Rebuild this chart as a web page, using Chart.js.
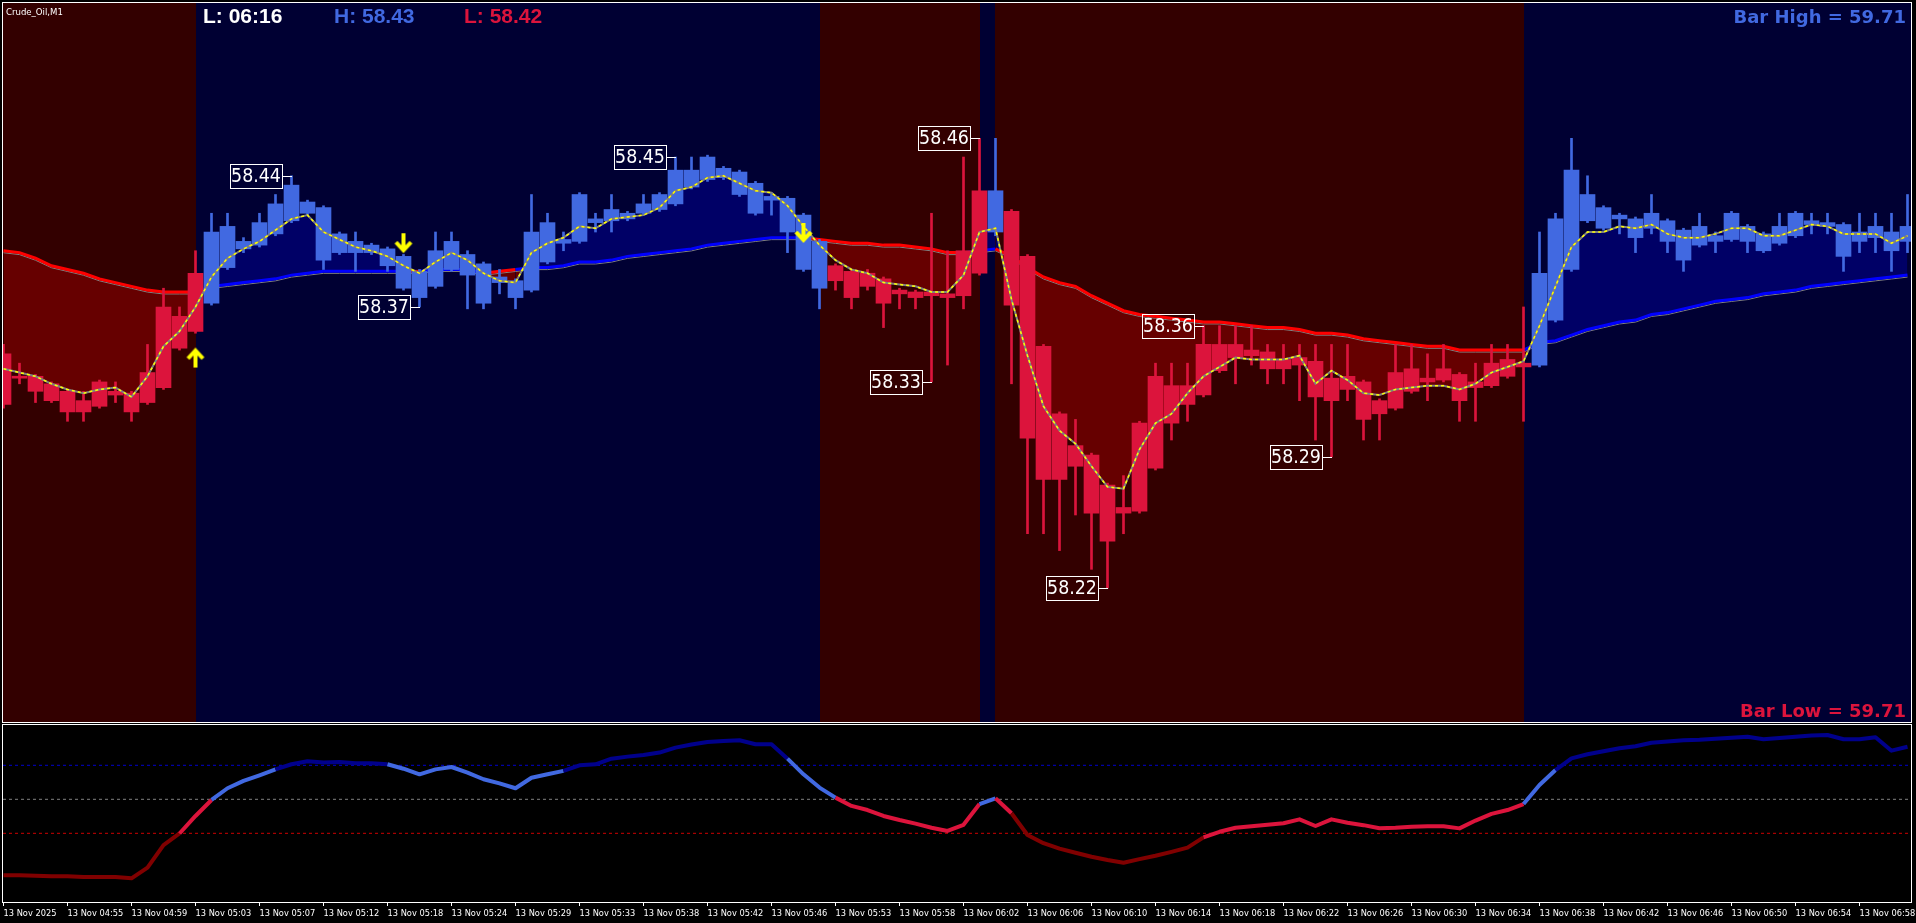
<!DOCTYPE html>
<html>
<head>
<meta charset="utf-8">
<title>Crude_Oil,M1</title>
<script src="https://cdn.jsdelivr.net/npm/chart.js@4.4.1/dist/chart.umd.min.js"></script>
<style>
  html, body { margin: 0; padding: 0; background: #000; overflow: hidden; }
  #main { position: absolute; left: 0; top: 0; }
  #osc { position: absolute; left: 0; top: 723px; }
</style>
</head>
<body>
<canvas id="main" width="1916" height="723"></canvas>
<canvas id="osc" width="1916" height="200"></canvas>
<script>
// Crude_Oil M1 candles, 120 bars (index 0 = 04:51)
const opens = [58.345,58.333,58.333,58.329,58.325,58.320,58.330,58.325,58.324,58.335,58.370,58.365,58.388,
  58.372,58.391,58.401,58.403,58.409,58.416,58.420,58.395,58.399,58.399,58.399,58.392,58.380,58.375,58.381,58.390,
  58.387,58.372,58.383,58.375,58.379,58.394,58.404,58.405,58.415,58.416,58.417,58.420,58.422,58.425,58.434,58.438,
  58.439,58.430,58.420,58.427,58.410,58.390,58.380,58.392,58.389,58.388,58.385,58.379,58.378,58.378,58.377,58.400,
  58.432,58.410,58.421,58.397,58.349,58.313,58.296,58.291,58.275,58.263,58.308,58.333,58.328,58.328,58.350,58.350,
  58.350,58.347,58.346,58.342,58.343,58.341,58.332,58.333,58.330,58.320,58.335,58.337,58.332,58.337,58.334,58.330,
  58.340,58.342,58.340,58.339,58.363,58.390,58.416,58.412,58.417,58.407,58.412,58.405,58.395,58.403,58.405,58.406,
  58.405,58.400,58.404,58.408,58.414,58.413,58.397,58.405,58.407,58.400,58.405];
const closes = [58.318,58.332,58.325,58.320,58.314,58.314,58.317,58.323,58.314,58.319,58.327,58.348,58.357,
  58.410,58.413,58.405,58.415,58.425,58.435,58.426,58.423,58.409,58.405,58.403,58.401,58.397,58.389,58.400,58.405,
  58.398,58.393,58.386,58.384,58.410,58.415,58.406,58.430,58.417,58.422,58.420,58.425,58.430,58.443,58.443,58.450,
  58.444,58.442,58.436,58.429,58.428,58.419,58.405,58.384,58.375,58.381,58.372,58.377,58.375,58.376,58.375,58.376,
  58.388,58.432,58.371,58.300,58.278,58.278,58.285,58.260,58.245,58.260,58.261,58.284,58.308,58.318,58.323,58.336,
  58.343,58.344,58.337,58.337,58.339,58.322,58.320,58.326,58.310,58.313,58.316,58.325,58.330,58.331,58.320,58.327,
  58.328,58.333,58.338,58.388,58.417,58.443,58.430,58.423,58.419,58.417,58.420,58.416,58.411,58.413,58.408,58.420,
  58.413,58.409,58.413,58.420,58.416,58.415,58.414,58.410,58.413,58.410,58.413];
const highs = [58.350,58.340,58.334,58.330,58.326,58.325,58.331,58.330,58.325,58.350,58.380,58.370,58.400,
  58.420,58.420,58.407,58.420,58.430,58.440,58.427,58.424,58.410,58.410,58.404,58.402,58.398,58.390,58.410,58.410,
  58.400,58.394,58.390,58.385,58.430,58.420,58.410,58.431,58.420,58.430,58.421,58.430,58.431,58.450,58.450,58.451,
  58.445,58.443,58.437,58.431,58.429,58.420,58.406,58.393,58.390,58.390,58.386,58.380,58.379,58.420,58.400,58.450,
  58.460,58.460,58.422,58.398,58.350,58.314,58.310,58.292,58.276,58.280,58.309,58.340,58.340,58.340,58.360,58.360,
  58.360,58.360,58.350,58.350,58.350,58.350,58.350,58.350,58.331,58.321,58.350,58.350,58.345,58.350,58.335,58.340,
  58.350,58.350,58.370,58.410,58.420,58.460,58.440,58.424,58.420,58.418,58.430,58.417,58.412,58.420,58.410,58.421,
  58.414,58.410,58.420,58.421,58.420,58.420,58.415,58.420,58.420,58.420,58.430];
const lows = [58.316,58.329,58.319,58.319,58.309,58.309,58.316,58.319,58.309,58.318,58.326,58.347,58.356,
  58.371,58.390,58.399,58.402,58.408,58.415,58.419,58.390,58.398,58.389,58.398,58.389,58.379,58.370,58.380,58.389,
  58.369,58.369,58.377,58.369,58.378,58.393,58.400,58.404,58.410,58.410,58.416,58.419,58.421,58.424,58.433,58.437,
  58.438,58.429,58.419,58.419,58.399,58.389,58.369,58.379,58.369,58.379,58.359,58.369,58.369,58.330,58.339,58.369,
  58.387,58.408,58.329,58.249,58.249,58.240,58.259,58.230,58.220,58.249,58.260,58.283,58.299,58.309,58.322,58.335,
  58.329,58.339,58.329,58.329,58.320,58.299,58.290,58.320,58.299,58.299,58.315,58.324,58.320,58.330,58.309,58.309,
  58.327,58.332,58.309,58.338,58.362,58.389,58.415,58.411,58.409,58.399,58.409,58.399,58.389,58.402,58.399,58.405,
  58.399,58.399,58.403,58.407,58.409,58.409,58.389,58.399,58.399,58.389,58.399];

// fast (yellow) and slow (red/blue) averages
const fastMa = [58.337,58.335,58.333,58.329,58.326,58.324,58.326,58.327,58.322,58.333,58.349,58.357,58.370,
  58.386,58.396,58.401,58.405,58.411,58.417,58.419,58.410,58.406,58.402,58.400,58.397,58.392,58.388,58.394,58.399,
  58.395,58.388,58.384,58.383,58.399,58.404,58.407,58.413,58.412,58.417,58.418,58.419,58.423,58.432,58.434,58.439,
  58.440,58.436,58.432,58.431,58.424,58.413,58.403,58.395,58.390,58.388,58.383,58.382,58.381,58.378,58.378,58.387,
  58.410,58.412,58.374,58.344,58.317,58.304,58.297,58.285,58.274,58.273,58.294,58.308,58.313,58.324,58.333,58.338,
  58.343,58.342,58.342,58.342,58.344,58.329,58.336,58.331,58.324,58.323,58.326,58.327,58.328,58.328,58.326,58.329,
  58.335,58.338,58.341,58.360,58.381,58.402,58.410,58.410,58.413,58.412,58.414,58.409,58.407,58.407,58.409,58.412,
  58.412,58.408,58.408,58.411,58.414,58.413,58.409,58.409,58.409,58.404,58.408];
const slowMa = [58.400,58.399,58.396,58.392,58.390,58.388,58.385,58.383,58.381,58.379,58.378,58.378,58.378,
  58.381,58.382,58.383,58.384,58.385,58.387,58.388,58.389,58.389,58.389,58.389,58.389,58.389,58.389,58.390,58.390,
  58.390,58.388,58.389,58.390,58.391,58.391,58.392,58.394,58.394,58.395,58.397,58.398,58.399,58.400,58.401,58.403,
  58.404,58.405,58.406,58.407,58.407,58.407,58.406,58.405,58.404,58.404,58.403,58.403,58.402,58.401,58.399,58.399,
  58.400,58.401,58.397,58.391,58.386,58.383,58.381,58.376,58.372,58.368,58.366,58.365,58.364,58.363,58.362,58.362,
  58.361,58.360,58.359,58.359,58.358,58.356,58.356,58.355,58.353,58.352,58.351,58.350,58.349,58.349,58.347,58.347,
  58.347,58.347,58.347,58.351,58.352,58.355,58.358,58.360,58.362,58.363,58.366,58.367,58.369,58.371,58.373,58.374,
  58.375,58.377,58.378,58.379,58.381,58.382,58.383,58.384,58.385,58.386,58.387];

// oscillator in the lower window
const oscValues = [5.3,5.3,5.1,4.7,4.7,4.3,4.3,4.3,3.5,9.8,23.1,29.9,40.2,49.6,56.5,60.8,64.1,67.6,70.6,72.4,
  71.6,72.0,71.2,71.2,70.6,68.0,64.7,67.6,69.0,65.7,61.8,59.4,56.5,62.7,64.7,66.7,70.0,70.6,73.9,75.1,76.1,77.5,
  80.4,82.2,83.7,84.3,84.7,82.4,82.4,73.9,64.7,56.9,51.0,46.1,43.7,40.2,37.8,35.7,33.3,31.4,35.0,47.2,50.6,41.8,
  29.0,24.2,21.0,18.6,16.2,14.3,12.7,14.8,16.8,19.1,21.6,27.6,30.9,33.3,34.2,35.0,35.9,38.2,34.3,38.2,36.2,34.8,
  33.0,33.2,33.9,34.1,34.2,32.9,37.5,41.4,43.7,47.2,58.4,67.2,74.1,76.5,78.3,80.0,81.2,83.3,84.0,84.7,85.0,85.6,
  86.2,86.8,85.3,86.0,86.8,87.5,87.8,85.3,85.3,86.5,78.6,80.9];
const oscLevels = [70, 50, 30];

// trend runs: [first bar, last bar, direction]
const trendRuns = [[0, 12, 'dn'], [13, 51, 'up'], [52, 61, 'dn'], [62, 62, 'up'], [63, 95, 'dn'], [96, 119, 'up']];

// signal arrows
const arrowBars = [12, 25, 50];
const arrowPrices = [58.343, 58.404, 58.4095];
const arrowDirs = ['up', 'dn', 'dn'];

// swing high / low labels
const swingBars = [18, 26, 42, 58, 61, 69, 75, 83];
const swingPrices = [58.44, 58.37, 58.45, 58.33, 58.46, 58.22, 58.36, 58.29];

// time axis labels, one every 4 bars
const tickBars = [0,4,8,12,16,20,24,28,32,36,40,44,48,52,56,60,64,68,72,76,80,84,88,92,96,100,104,108,112,116];
const timeLabels = ['13 Nov 2025','13 Nov 04:55','13 Nov 04:59','13 Nov 05:03','13 Nov 05:07','13 Nov 05:12',
  '13 Nov 05:18','13 Nov 05:24','13 Nov 05:29','13 Nov 05:33','13 Nov 05:38','13 Nov 05:42','13 Nov 05:46',
  '13 Nov 05:53','13 Nov 05:58','13 Nov 06:02','13 Nov 06:06','13 Nov 06:10','13 Nov 06:14','13 Nov 06:18',
  '13 Nov 06:22','13 Nov 06:26','13 Nov 06:30','13 Nov 06:34','13 Nov 06:38','13 Nov 06:42','13 Nov 06:46',
  '13 Nov 06:50','13 Nov 06:54','13 Nov 06:58'];

const nBars = opens.length;
const xMin = -0.03125, xMax = 119.21875;
const BLUE = '#4169E1', CRIMSON = '#DC143C';

// use a condensed face when one is installed, and size the small texts to the widths seen on the chart
function hasFont(name) {
  const g = document.createElement('canvas').getContext('2d');
  const probe = '13 Nov 04:55 abcMWxyz';
  g.font = '20px monospace';
  const w0 = g.measureText(probe).width;
  g.font = '20px "' + name + '", monospace';
  return g.measureText(probe).width !== w0;
}
const narrowName = ['Liberation Sans Narrow', 'DejaVu Sans Condensed'].find(hasFont);
const SMALL = narrowName ? '"' + narrowName + '", "Liberation Sans", sans-serif' : '"Liberation Sans", Arial, sans-serif';
function fitSize(text, width) {
  const g = document.createElement('canvas').getContext('2d');
  g.font = '10px ' + SMALL;
  return Math.round(100 * width / g.measureText(text).width) / 10;
}
const axisSize = fitSize('13 Nov 04:55', 56);
const tagFont = fitSize('58.44', 50) + 'px ' + SMALL;
const nameFont = fitSize('Crude_Oil,M1', 57) + 'px ' + SMALL;

const trendOf = [];
trendRuns.forEach(([a, b, d]) => { for (let i = a; i <= b; i++) trendOf[i] = d; });
const candleColors = trendOf.map(d => d === 'up' ? BLUE : CRIMSON);
const idx = opens.map((_, i) => i);

function makeArrow(up) {
  const c = document.createElement('canvas');
  c.width = 20; c.height = 22;
  const g = c.getContext('2d');
  if (!up) { g.translate(0, 22); g.scale(1, -1); }
  g.strokeStyle = '#ffff00';
  g.lineWidth = 4;
  g.beginPath(); g.moveTo(10, 4); g.lineTo(10, 21); g.stroke();
  g.beginPath(); g.moveTo(2.5, 12); g.lineTo(10, 4); g.lineTo(17.5, 12); g.stroke();
  return c;
}
const upArrow = makeArrow(true), dnArrow = makeArrow(false);

// plugins
const zoneBg = {
  id: 'zoneBg',
  beforeDraw(chart) {
    const {ctx, chartArea: a, scales: {x}} = chart;
    ctx.save();
    trendRuns.forEach(([from, to, dir]) => {
      const x0 = from === 0 ? a.left : Math.round(x.getPixelForValue(from - 1));
      const x1 = to === nBars - 1 ? a.right : Math.round(x.getPixelForValue(to));
      ctx.fillStyle = dir === 'up' ? '#000033' : '#330000';
      ctx.fillRect(x0, a.top, x1 - x0, a.bottom - a.top);
    });
    ctx.restore();
  }
};

const shiftLines = {
  id: 'shiftLines',
  beforeDatasetDraw(chart, args) {
    const s = chart.data.datasets[args.index].shiftY;
    if (s) { chart.ctx.save(); chart.ctx.translate(0, s); }
  },
  afterDatasetDraw(chart, args) {
    if (chart.data.datasets[args.index].shiftY) chart.ctx.restore();
  }
};

const swingLabels = {
  id: 'swingLabels',
  afterDatasetsDraw(chart) {
    const {ctx, scales: {x, y}} = chart;
    ctx.save();
    ctx.strokeStyle = '#fff';
    ctx.fillStyle = '#fff';
    ctx.lineWidth = 1;
    ctx.font = tagFont;
    ctx.textAlign = 'center';
    ctx.textBaseline = 'middle';
    swingBars.forEach((b, k) => {
      const px = Math.round(x.getPixelForValue(b));
      const py = Math.round(y.getPixelForValue(swingPrices[k]));
      const right = px - 10;
      ctx.beginPath();
      ctx.moveTo(right, py + 0.5);
      ctx.lineTo(px, py + 0.5);
      ctx.stroke();
      ctx.strokeRect(right - 52 + 0.5, py - 12 + 0.5, 52, 24);
      ctx.fillText(swingPrices[k].toFixed(2), right - 26, py + 1);
    });
    ctx.restore();
  }
};

const paneFrame = {
  id: 'paneFrame',
  afterDraw(chart) {
    const {ctx, chartArea: a} = chart;
    ctx.save();
    ctx.strokeStyle = '#fff';
    ctx.lineWidth = 1;
    ctx.strokeRect(a.left - 0.5, a.top - 0.5, a.right - a.left + 1, a.bottom - a.top + 1);
    ctx.restore();
  }
};

const headerText = {
  id: 'headerText',
  afterDraw(chart) {
    const ctx = chart.ctx;
    ctx.save();
    ctx.textBaseline = 'alphabetic';
    ctx.textAlign = 'left';
    ctx.fillStyle = '#fff';
    ctx.font = nameFont;
    ctx.fillText('Crude_Oil,M1', 6, 15);
    ctx.font = 'bold 21px "Liberation Sans", Arial, sans-serif';
    ctx.fillText('L: 06:16', 203, 23);
    ctx.fillStyle = BLUE;
    ctx.fillText('H: 58.43', 334, 23);
    ctx.fillStyle = CRIMSON;
    ctx.fillText('L: 58.42', 464, 23);
    ctx.textAlign = 'right';
    ctx.font = 'bold 18px "DejaVu Sans", sans-serif';
    ctx.fillStyle = BLUE;
    ctx.fillText('Bar High = 59.71', 1906, 23);
    ctx.fillStyle = CRIMSON;
    ctx.fillText('Bar Low = 59.71', 1906, 717);
    ctx.restore();
  }
};

// main price window
new Chart(document.getElementById('main'), {
  type: 'bar',
  data: {
    datasets: [
      { // 0 gray shadow of slow average
        type: 'line', order: 60, shiftY: 2,
        data: idx.map(i => ({x: i, y: slowMa[i]})),
        borderColor: '#808080', borderWidth: 1, pointRadius: 0, tension: 0
      },
      { // 1 slow average coloured by trend
        type: 'line', order: 50,
        data: idx.map(i => ({x: i, y: slowMa[i]})),
        borderColor: '#FF0000', borderWidth: 3, pointRadius: 0, tension: 0,
        segment: {
          borderColor: c => fastMa[c.p1DataIndex] >= slowMa[c.p1DataIndex] ? '#0000FF' : '#FF0000'
        }
      },
      { // 2 wicks
        type: 'bar', order: 40, grouped: false, barThickness: 2,
        data: idx.map(i => ({x: i, y: [lows[i], highs[i]]})),
        backgroundColor: candleColors, borderWidth: 0
      },
      { // 3 bodies
        type: 'bar', order: 30, grouped: false, barThickness: 15, minBarLength: 2,
        data: idx.map(i => ({x: i, y: [opens[i], closes[i]]})),
        backgroundColor: candleColors, borderWidth: 0
      },
      { // 4 gray under fast average
        type: 'line', order: 20,
        data: idx.map(i => ({x: i, y: fastMa[i]})),
        borderColor: '#808080', borderWidth: 2, pointRadius: 0, tension: 0
      },
      { // 5 fast average, filled against the slow one
        type: 'line', order: 10,
        data: idx.map(i => ({x: i, y: fastMa[i]})),
        borderColor: '#FFFF00', borderWidth: 1.5, borderDash: [3, 3], pointRadius: 0, tension: 0,
        fill: {target: 1, above: '#000066', below: '#660000'}
      },
      { // 6 arrows
        type: 'line', order: 5, showLine: false,
        data: arrowBars.map((b, k) => ({x: b, y: arrowPrices[k]})),
        pointRadius: 8,
        pointStyle: c => arrowDirs[c.dataIndex] === 'up' ? upArrow : dnArrow
      }
    ]
  },
  options: {
    responsive: false,
    animation: false,
    devicePixelRatio: 1,
    events: [],
    layout: {autoPadding: false, padding: {left: 3, right: 5, top: 3, bottom: 1}},
    plugins: {
      legend: {display: false},
      tooltip: {enabled: false},
      filler: {drawTime: 'beforeDatasetsDraw'}
    },
    scales: {
      x: {type: 'linear', min: xMin, max: xMax, offset: false, display: false},
      y: {type: 'linear', min: 58.14853, max: 58.5322, display: false}
    }
  },
  plugins: [zoneBg, shiftLines, swingLabels, paneFrame, headerText]
});

// oscillator window
const levelColors = ['#0000CD', '#808080', '#CC0000'];
function oscColor(v) {
  if (v >= 70) return '#00008B';
  if (v >= 50) return BLUE;
  if (v >= 30) return CRIMSON;
  return '#800000';
}

new Chart(document.getElementById('osc'), {
  type: 'line',
  data: {
    datasets: oscLevels.map((lv, k) => ({
      order: 20,
      data: [{x: xMin, y: lv}, {x: xMax, y: lv}],
      borderColor: levelColors[k], borderWidth: 1, borderDash: [3, 3], pointRadius: 0
    })).concat([{
      order: 1,
      data: idx.map(i => ({x: i, y: oscValues[i]})),
      borderWidth: 4, pointRadius: 0, tension: 0, borderJoinStyle: 'round',
      borderColor: '#800000',
      segment: {borderColor: c => oscColor(oscValues[c.p1DataIndex])}
    }])
  },
  options: {
    responsive: false,
    animation: false,
    devicePixelRatio: 1,
    events: [],
    layout: {autoPadding: false, padding: {left: 3, right: 5, top: 2, bottom: 0}},
    plugins: {legend: {display: false}, tooltip: {enabled: false}},
    scales: {
      x: {
        type: 'linear', min: xMin, max: xMax, offset: false,
        afterBuildTicks: s => { s.ticks = tickBars.map(v => ({value: v})); },
        afterFit: s => { s.height = 21; s.paddingLeft = 0; s.paddingRight = 0; },
        ticks: {
          color: '#fff', align: 'start', maxRotation: 0, minRotation: 0, autoSkip: false, padding: 2,
          font: {family: SMALL, size: axisSize},
          callback: (v, i) => timeLabels[i]
        },
        grid: {drawOnChartArea: false, drawTicks: true, tickLength: 4, color: '#fff', tickColor: '#fff', offset: false},
        border: {display: false}
      },
      y: {type: 'linear', min: -10.4, max: 93.7, display: false}
    }
  },
  plugins: [paneFrame]
});
</script>
</body>
</html>
